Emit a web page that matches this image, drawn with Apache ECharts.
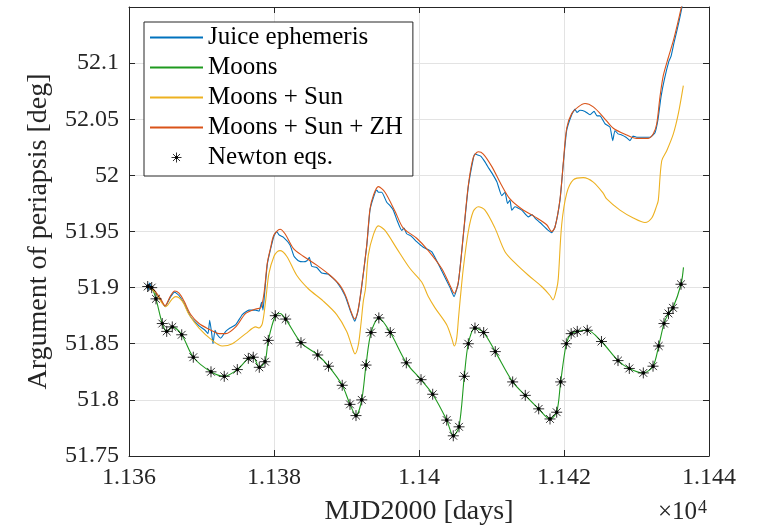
<!DOCTYPE html>
<html><head><meta charset="utf-8">
<script src="https://cdn.jsdelivr.net/npm/echarts@6/dist/echarts.min.js"></script>
<style>html,body{margin:0;padding:0;background:#fff}#c{width:761px;height:531px}</style>
</head><body><div id="c"></div>
<script>
// ---------- data ----------
const xTickLabels = {11360:'1.136', 11380:'1.138', 11400:'1.14', 11420:'1.142', 11440:'1.144'};
const yTickLabels = [51.75, 51.8, 51.85, 51.9, 51.95, 52, 52.05, 52.1];

const juice = [[11362.52,51.903],[11362.66,51.898],[11362.83,51.904],[11363.17,51.899],[11363.59,51.896],[11364.37,51.889],[11364.97,51.883],[11365.75,51.892],[11366.30,51.896],[11366.90,51.893],[11367.59,51.886],[11368.51,51.874],[11369.66,51.866],[11370.48,51.862],[11370.90,51.859],[11371.13,51.871],[11371.41,51.859],[11371.59,51.850],[11371.86,51.862],[11372.18,51.858],[11372.65,51.855],[11373.34,51.861],[11373.93,51.864],[11374.72,51.867],[11375.63,51.876],[11376.55,51.880],[11377.48,51.880],[11377.93,51.879],[11378.28,51.887],[11378.48,51.880],[11378.69,51.894],[11379.08,51.921],[11379.55,51.935],[11380.00,51.946],[11380.37,51.950],[11380.69,51.947],[11381.28,51.945],[11382.21,51.938],[11382.76,51.928],[11383.35,51.924],[11384.04,51.923],[11384.55,51.924],[11384.87,51.927],[11385.20,51.919],[11385.89,51.918],[11386.58,51.913],[11387.49,51.912],[11388.65,51.905],[11389.79,51.893],[11390.55,51.879],[11391.13,51.870],[11391.59,51.879],[11392.10,51.901],[11392.79,51.937],[11393.24,51.969],[11393.70,51.980],[11394.17,51.987],[11394.41,51.985],[11394.86,51.985],[11395.55,51.976],[11396.00,51.973],[11396.46,51.969],[11396.97,51.960],[11397.61,51.951],[11397.93,51.953],[11398.30,51.948],[11398.90,51.946],[11399.68,51.941],[11400.59,51.936],[11401.75,51.932],[11403.13,51.915],[11404.28,51.900],[11404.83,51.892],[11405.42,51.904],[11406.11,51.946],[11406.80,51.990],[11407.49,52.015],[11407.72,52.019],[11408.18,52.018],[11408.55,52.017],[11409.10,52.012],[11409.66,52.006],[11410.25,52.000],[11410.76,51.994],[11411.41,51.982],[11411.86,51.985],[11412.21,51.975],[11412.55,51.978],[11412.79,51.969],[11413.24,51.972],[11414.17,51.969],[11415.08,51.963],[11415.59,51.965],[11416.00,51.962],[11416.69,51.958],[11417.83,51.951],[11418.30,51.949],[11418.76,51.954],[11419.45,51.978],[11419.90,52.010],[11420.37,52.040],[11421.06,52.054],[11421.52,52.059],[11421.79,52.056],[11422.21,52.058],[11422.90,52.057],[11423.59,52.054],[11424.14,52.057],[11424.55,52.053],[11424.97,52.053],[11425.38,52.049],[11425.66,52.046],[11426.34,52.043],[11426.72,52.031],[11427.03,52.040],[11427.45,52.037],[11427.96,52.036],[11428.55,52.034],[11429.10,52.031],[11429.52,52.035],[11430.03,52.034],[11430.76,52.034],[11431.86,52.034],[11432.55,52.038],[11432.97,52.050],[11433.38,52.070],[11433.86,52.086],[11434.48,52.102],[11434.76,52.106],[11435.17,52.118],[11435.86,52.137],[11436.28,52.150],[11436.62,52.160]];

const moons = [[11362.58,51.901],[11363.13,51.900],[11363.72,51.890],[11364.59,51.868],[11365.20,51.861],[11365.97,51.865],[11367.27,51.858],[11368.87,51.838],[11371.31,51.825],[11373.14,51.821],[11374.94,51.827],[11376.46,51.837],[11377.14,51.838],[11377.97,51.829],[11378.76,51.834],[11379.21,51.853],[11380.18,51.875],[11380.83,51.877],[11381.61,51.872],[11383.72,51.851],[11386.03,51.840],[11387.52,51.830],[11389.41,51.813],[11390.48,51.796],[11391.31,51.786],[11392.10,51.800],[11392.69,51.831],[11393.38,51.860],[11394.46,51.873],[11396.04,51.860],[11398.25,51.833],[11400.28,51.818],[11401.89,51.805],[11403.82,51.782],[11404.73,51.768],[11405.52,51.776],[11406.25,51.821],[11406.80,51.850],[11407.72,51.864],[11408.92,51.860],[11410.52,51.843],[11412.92,51.816],[11414.66,51.804],[11416.51,51.792],[11418.07,51.783],[11418.99,51.789],[11419.54,51.816],[11420.32,51.850],[11420.99,51.859],[11421.83,51.861],[11423.21,51.862],[11425.17,51.852],[11427.45,51.835],[11429.01,51.828],[11430.94,51.824],[11432.28,51.830],[11433.06,51.848],[11433.79,51.868],[11434.41,51.877],[11435.03,51.882],[11436.14,51.903],[11436.48,51.918]];

const moonsSun = [[11362.52,51.902],[11363.68,51.895],[11364.59,51.886],[11365.06,51.883],[11365.97,51.890],[11366.44,51.892],[11367.35,51.888],[11368.28,51.876],[11369.66,51.864],[11371.49,51.853],[11372.87,51.848],[11374.25,51.850],[11376.10,51.859],[11377.48,51.865],[11377.93,51.864],[11378.39,51.868],[11378.86,51.889],[11379.31,51.913],[11380.00,51.928],[11380.46,51.932],[11380.83,51.933],[11381.75,51.928],[11383.13,51.911],[11384.73,51.899],[11386.80,51.888],[11388.65,51.876],[11390.03,51.861],[11390.72,51.848],[11391.17,51.841],[11391.63,51.849],[11392.00,51.868],[11392.32,51.888],[11392.62,51.899],[11393.01,51.929],[11393.70,51.947],[11394.39,51.955],[11395.31,51.951],[11396.92,51.935],[11398.76,51.917],[11400.37,51.905],[11401.28,51.892],[11402.21,51.882],[11403.82,51.867],[11404.51,51.855],[11404.87,51.848],[11405.20,51.855],[11405.45,51.873],[11405.66,51.888],[11406.11,51.917],[11406.80,51.950],[11407.49,51.968],[11408.18,51.972],[11409.10,51.969],[11410.48,51.953],[11411.86,51.932],[11413.24,51.922],[11415.08,51.911],[11416.92,51.901],[11418.07,51.893],[11418.48,51.889],[11418.99,51.899],[11419.21,51.908],[11419.68,51.956],[11420.37,51.984],[11421.28,51.996],[11422.66,51.998],[11424.04,51.994],[11425.42,51.984],[11425.89,51.979],[11427.72,51.969],[11429.56,51.962],[11431.17,51.958],[11432.10,51.962],[11432.79,51.973],[11433.01,51.978],[11433.48,52.013],[11434.17,52.022],[11435.08,52.037],[11435.77,52.055],[11436.46,52.080]];

const moonsSunZH = [[11362.52,51.902],[11363.45,51.898],[11364.37,51.890],[11364.97,51.884],[11365.75,51.893],[11366.30,51.897],[11366.90,51.895],[11367.59,51.888],[11368.51,51.876],[11369.66,51.868],[11371.03,51.863],[11372.41,51.859],[11373.34,51.859],[11374.72,51.865],[11376.10,51.877],[11377.48,51.881],[11378.17,51.882],[11378.62,51.895],[11379.08,51.922],[11379.55,51.936],[11380.00,51.947],[11380.83,51.952],[11381.52,51.948],[11382.66,51.935],[11384.04,51.928],[11385.89,51.920],[11387.72,51.911],[11389.10,51.902],[11389.93,51.892],[11390.55,51.880],[11391.13,51.872],[11391.59,51.880],[11392.10,51.902],[11392.79,51.938],[11393.24,51.970],[11393.70,51.982],[11394.39,51.990],[11395.31,51.985],[11396.69,51.968],[11397.83,51.953],[11399.68,51.944],[11401.28,51.933],[11403.13,51.917],[11404.28,51.902],[11404.87,51.895],[11405.42,51.905],[11406.11,51.947],[11406.80,51.991],[11407.49,52.016],[11408.18,52.021],[11408.87,52.019],[11410.03,52.008],[11411.41,51.991],[11412.55,51.979],[11414.17,51.970],[11416.00,51.963],[11417.61,51.956],[11418.30,51.950],[11418.76,51.954],[11419.45,51.979],[11419.90,52.011],[11420.37,52.042],[11421.06,52.055],[11421.97,52.061],[11422.90,52.064],[11424.04,52.061],[11425.42,52.052],[11426.80,52.042],[11428.65,52.036],[11430.03,52.033],[11431.63,52.033],[11432.32,52.037],[11432.79,52.046],[11433.24,52.070],[11433.70,52.089],[11434.39,52.105],[11435.08,52.120],[11435.77,52.138],[11436.23,52.151],[11436.55,52.160]];

const newton = [[11362.58,51.901],[11363.13,51.900],[11363.72,51.890],[11364.59,51.868],[11365.20,51.861],[11365.97,51.865],[11367.27,51.858],[11368.87,51.838],[11371.31,51.825],[11373.14,51.821],[11374.94,51.827],[11376.46,51.837],[11377.14,51.838],[11377.97,51.829],[11378.76,51.834],[11379.21,51.853],[11380.18,51.875],[11381.61,51.872],[11383.72,51.851],[11386.03,51.840],[11387.52,51.830],[11389.41,51.813],[11390.48,51.796],[11391.31,51.786],[11392.10,51.800],[11392.69,51.831],[11393.38,51.860],[11394.46,51.873],[11396.04,51.860],[11398.25,51.833],[11400.28,51.818],[11401.89,51.805],[11403.82,51.782],[11404.73,51.768],[11405.52,51.776],[11406.25,51.821],[11406.80,51.850],[11407.72,51.864],[11408.92,51.860],[11410.52,51.843],[11412.92,51.816],[11414.66,51.804],[11416.51,51.792],[11418.07,51.783],[11418.99,51.789],[11419.54,51.816],[11420.32,51.850],[11420.99,51.859],[11421.83,51.861],[11423.21,51.862],[11425.17,51.852],[11427.45,51.835],[11429.01,51.828],[11430.94,51.824],[11432.28,51.830],[11433.06,51.848],[11433.79,51.868],[11434.41,51.877],[11435.03,51.882],[11436.14,51.903]];

// ---------- chart ----------
const FONT = '"Liberation Serif", "Times New Roman", serif';
const AX = '#262626';
const GRIDC = '#e3e3e3';
const STAR = 'path://M0,5L10,5M5,0L5,10M1.46,1.46L8.54,8.54M1.46,8.54L8.54,1.46M6.3,5A1.3,1.3,0,1,1,3.7,5A1.3,1.3,0,1,1,6.3,5Z';

const chart = echarts.init(document.getElementById('c'), null, {renderer:'canvas'});

function baseX(pos, main) {
  return {
    type:'value', min:11360, max:11440, interval:20, position:pos,
    axisLine:{show:true, onZero:false, lineStyle:{color:AX, width:1}},
    axisTick:{show:true, inside:true, length:6, lineStyle:{color:AX}},
    axisLabel:{show:main, fontFamily:FONT, fontSize:24, color:AX, margin:10,
      formatter: v => xTickLabels[Math.round(v)] || ''},
    splitLine:{show:main, lineStyle:{color:GRIDC, width:1}},
    name: main ? 'MJD2000 [days]' : '', nameLocation:'middle', nameGap:42,
    nameTextStyle:{fontFamily:FONT, fontSize:28, color:AX}
  };
}
function baseY(pos, main) {
  return {
    type:'value', min:51.75, max:52.15, interval:0.05, position:pos,
    axisLine:{show:true, onZero:false, lineStyle:{color:AX, width:1}},
    axisTick:{show:true, inside:true, length:6, lineStyle:{color:AX}},
    axisLabel:{show:main, fontFamily:FONT, fontSize:24, color:AX, margin:10,
      formatter: v => { const r = Math.round(v*100)/100; return yTickLabels.indexOf(r) >= 0 ? String(r) : ''; }},
    splitLine:{show:main, lineStyle:{color:GRIDC, width:1}},
    name: main ? 'Argument of periapsis [deg]' : '', nameLocation:'middle', nameGap:76,
    nameTextStyle:{fontFamily:FONT, fontSize:28, color:AX}
  };
}

const lineSeries = (name, data, color, smooth) => ({
  name, type:'line', data, symbol:'none', smooth, clip:true,
  lineStyle:{color, width:1.1}, itemStyle:{color}, emphasis:{disabled:true}
});

const lineLegend = name => ({name, itemStyle:{opacity:0}});

chart.setOption({
  animation:false,
  backgroundColor:'#fff',
  grid:{left:129, right:52, top:7, bottom:73},
  xAxis:[baseX('bottom', true), baseX('top', false)],
  yAxis:[baseY('left', true), baseY('right', false)],
  legend:{
    orient:'vertical', left:144, top:22,
    backgroundColor:'#fff', borderColor:AX, borderWidth:1,
    padding:[3,10,6,5], itemGap:5, itemWidth:53, itemHeight:10,
    textStyle:{fontFamily:FONT, fontSize:25, color:'#000', lineHeight:23},
    data:[
      lineLegend('Juice ephemeris'),
      lineLegend('Moons'),
      lineLegend('Moons + Sun'),
      lineLegend('Moons + Sun + ZH'),
      {name:'Newton eqs.', itemStyle:{color:'#000', borderColor:'#000', borderWidth:1}}
    ]
  },
  graphic:[
    {type:'text', x:697, y:525, style:{text:'×10', font:'25px "Liberation Serif"', fill:AX, align:'right', verticalAlign:'bottom'}},
    {type:'text', x:698, y:499, style:{text:'4', font:'18px "Liberation Serif"', fill:AX, align:'left', verticalAlign:'top'}}
  ],
  series:[
    lineSeries('Juice ephemeris', juice, '#0072BD', 0.15),
    lineSeries('Moons', moons, '#1f9a1f', 0.3),
    lineSeries('Moons + Sun', moonsSun, '#EDB120', 0.3),
    lineSeries('Moons + Sun + ZH', moonsSunZH, '#D95319', 0.3),
    {name:'Newton eqs.', type:'scatter', data:newton, symbol:STAR, symbolSize:11,
     itemStyle:{color:'#000', borderColor:'#000', borderWidth:1}, emphasis:{disabled:true}, z:3}
  ]
});
</script></body></html>
